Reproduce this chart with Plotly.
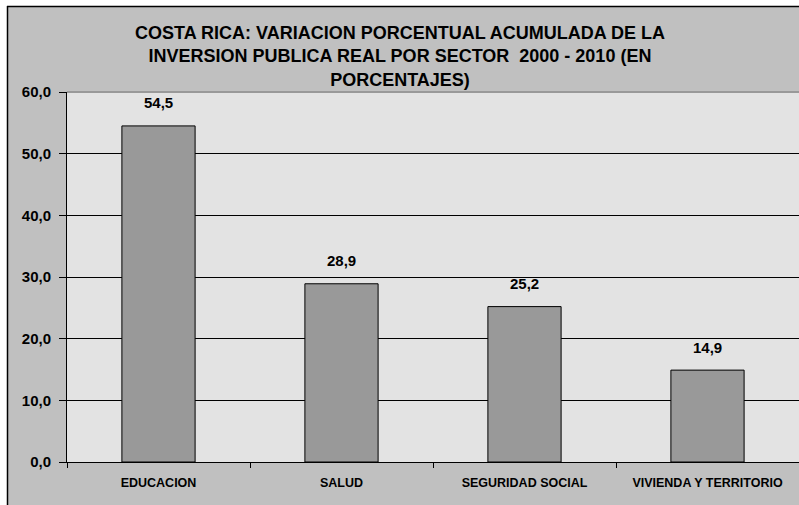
import plotly.graph_objects as go

sectores = ["EDUCACION", "SALUD", "SEGURIDAD SOCIAL", "VIVIENDA Y TERRITORIO"]
variacion = [54.5, 28.9, 25.2, 14.9]
y_ticks = [0, 10, 20, 30, 40, 50, 60]

titulo = ("COSTA RICA: VARIACION PORCENTUAL ACUMULADA DE LA<br>"
          "INVERSION PUBLICA REAL POR SECTOR  2000 - 2010 (EN<br>"
          "PORCENTAJES)")

FONT = "Arial, Liberation Sans, sans-serif"
W, H = 799, 505
L, R, T, B = 67, 0, 92, 43
pw, ph = W - L - R, H - T - B


def px_x(px):
    return (px - L) / pw


def px_y(py):
    return (H - B - py) / ph


fig = go.Figure()
fig.add_trace(go.Bar(
    x=sectores,
    y=variacion,
    marker=dict(color="#999999", line=dict(color="#000000", width=1)),
    width=0.4,
    hoverinfo="skip",
))

# etiquetas de datos
for s, v in zip(sectores, variacion):
    fig.add_annotation(
        x=s, y=v, text=f"{v:.1f}".replace(".", ","),
        showarrow=False, yanchor="middle", yshift=23,
        font=dict(family=FONT, size=15, color="#000000", weight="bold"),
    )

fig.add_annotation(
    x=px_x(399.5), y=px_y(56), xref="paper", yref="paper",
    text=titulo, showarrow=False,
    xanchor="center", yanchor="middle",
    font=dict(family=FONT, size=18, color="#000000", weight="bold"),
)

shapes = [
    # franjas blancas fuera del borde
    dict(type="rect", xref="paper", yref="paper", x0=px_x(0), x1=px_x(W), y0=px_y(6), y1=px_y(0),
         fillcolor="#ffffff", line=dict(width=0), layer="above"),
    dict(type="rect", xref="paper", yref="paper", x0=px_x(0), x1=px_x(7), y0=px_y(H), y1=px_y(0),
         fillcolor="#ffffff", line=dict(width=0), layer="above"),
    # borde del grafico
    dict(type="line", xref="paper", yref="paper", x0=px_x(7), x1=px_x(W), y0=px_y(6.5), y1=px_y(6.5),
         line=dict(color="#000000", width=1.5), layer="above"),
    dict(type="line", xref="paper", yref="paper", x0=px_x(7.5), x1=px_x(7.5), y0=px_y(H), y1=px_y(6),
         line=dict(color="#000000", width=1.5), layer="above"),
    # borde superior del area de trazado
    dict(type="line", xref="paper", yref="paper", x0=0, x1=1, y0=1, y1=1,
         line=dict(color="#999999", width=2), layer="above"),
]

fig.update_layout(
    width=W, height=H,
    margin=dict(l=L, r=R, t=T, b=B, autoexpand=False),
    paper_bgcolor="#c0c0c0",
    plot_bgcolor="#e3e3e3",
    separators=",.",
    showlegend=False,
    shapes=shapes,
    bargap=0.6,
    xaxis=dict(
        showline=True, linecolor="#000000", linewidth=1,
        ticks="outside", ticklen=5, tickcolor="#000000", tickson="boundaries",
        tickfont=dict(family=FONT, size=12.5, color="#000000", weight="bold"),
        showgrid=False, fixedrange=True, automargin=False,
        ticklabelstandoff=9,
    ),
    yaxis=dict(
        range=[0, 60], tickvals=y_ticks, tickformat=".1f",
        showline=True, linecolor="#000000", linewidth=1,
        ticks="outside", ticklen=7, tickcolor="#000000",
        tickfont=dict(family=FONT, size=15, color="#000000", weight="bold"),
        showgrid=True, gridcolor="#000000", gridwidth=1,
        zeroline=False, fixedrange=True, automargin=False,
        ticklabelstandoff=5,
    ),
)

fig.write_html("out.html", config={"displayModeBar": False},
               post_script="document.body.style.margin = '0';")
